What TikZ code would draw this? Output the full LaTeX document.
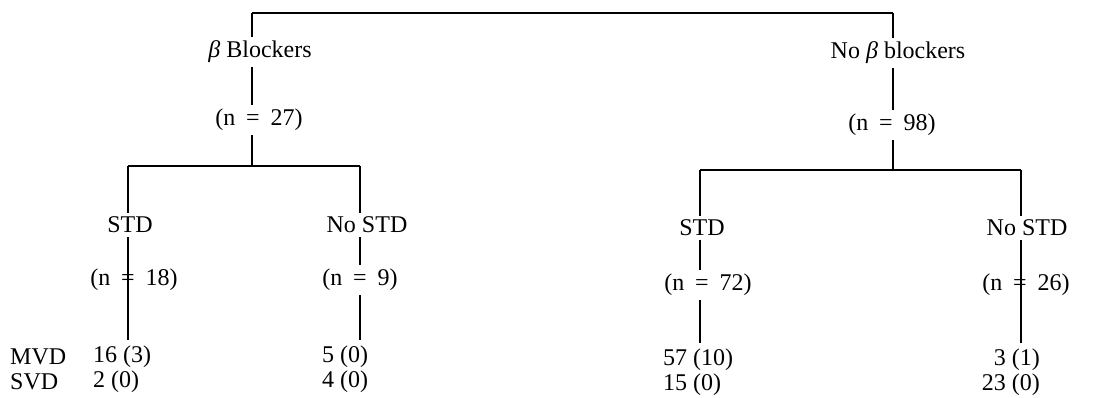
\documentclass[tikz,border=0pt]{standalone}
\usepackage{fontspec}
\setmainfont{Liberation Serif}
\usetikzlibrary{calc}
\tikzset{
  lab/.style={font=\fontsize{24}{28}\selectfont, inner sep=4pt},
  cnt/.style={font=\fontsize{24}{28}\selectfont, inner xsep=0pt, inner ysep=6pt},
  tree/.style={line width=1.9pt}
}
\newcommand{\ncount}[1]{(n\hspace{.45em}=\hspace{.45em}#1)}
\begin{document}
\begin{tikzpicture}[x=1pt,y=-1pt]
		%%%%% START %%%%%
		\useasboundingbox (0,0) rectangle (1097,398);
		
		% top split
		\coordinate (topL) at (252,13);
		\coordinate (topR) at (893,13);
		\draw[tree] (topL) -- (topR);
		
		\node[lab] (beta) at (260,52) {\textit{β} Blockers};
		\node[lab] (nobeta) at (898,53) {No \textit{β} blockers};
		\node[lab] (n27) at (259,120) {\ncount{27}};
		\node[lab] (n98) at (892,125) {\ncount{98}};
		
		\draw[tree] (topL) -- (beta.north -| topL);
		\draw[tree] (beta.south -| topL) -- (n27.north -| topL);
		\draw[tree] (topR) -- (nobeta.north -| topR);
		\draw[tree] (nobeta.south -| topR) -- (n98.north -| topR);
		
		% second split
		\coordinate (barA) at (128,166);
		\coordinate (barB) at (360,166);
		\coordinate (barC) at (700,170);
		\coordinate (barD) at (1021,170);
		\draw[tree] (barA) -- (barB);
		\draw[tree] (barC) -- (barD);
		\draw[tree] (n27.south -| topL) -- (barA -| topL);
		\draw[tree] (n98.south -| topR) -- (barC -| topR);
		
		\node[lab] (stdA) at (130,225) {STD};
		\node[lab] (nostdA) at (367,225) {No STD};
		\node[lab] (stdB) at (702,228) {STD};
		\node[lab] (nostdB) at (1027,228) {No STD};
		
		\node[lab] (n18) at (134,280) {\ncount{18}};
		\node[lab] (n9) at (360,280) {\ncount{9}};
		\node[lab] (n72) at (708,285) {\ncount{72}};
		\node[lab] (n26) at (1026,285) {\ncount{26}};
		
		% outcomes
		\node[cnt, anchor=west] (mvd) at (10,357) {MVD};
		\node[cnt, anchor=west] (svd) at (10,382) {SVD};
		
		\node[cnt, anchor=west] (mvdA) at (93,357) {16 (3)};
		\node[cnt, anchor=west] (svdA) at (93,382) {2 (0)};
		\node[cnt, anchor=west] (mvdB) at (322,357) {5 (0)};
		\node[cnt, anchor=west] (svdB) at (322,382) {4 (0)};
		\node[cnt, anchor=west] (mvdC) at (663,360) {57 (10)};
		\node[cnt, anchor=west] (svdC) at (663,385) {15 (0)};
		\node[cnt, anchor=east] (mvdD) at (1040,360) {3 (1)};
		\node[cnt, anchor=east] (svdD) at (1040,385) {23 (0)};
		
		\draw[tree] (barA) -- (stdA.north -| barA);
		\draw[tree] (stdA.south -| barA) -- (mvdA.north -| barA);
		
		\draw[tree] (barB) -- (nostdA.north -| barB);
		\draw[tree] (nostdA.south -| barB) -- (n9.north -| barB);
		\draw[tree] (n9.south -| barB) -- (mvdB.north -| barB);
		
		\draw[tree] (barC) -- (stdB.north -| barC);
		\draw[tree] (stdB.south -| barC) -- (n72.north -| barC);
		\draw[tree] (n72.south -| barC) -- (mvdC.north -| barC);
		
		\draw[tree] (barD) -- (nostdB.north -| barD);
		\draw[tree] (nostdB.south -| barD) -- (mvdD.north -| barD);
		
		%%%%% END %%%%%
\end{tikzpicture}
\end{document}
